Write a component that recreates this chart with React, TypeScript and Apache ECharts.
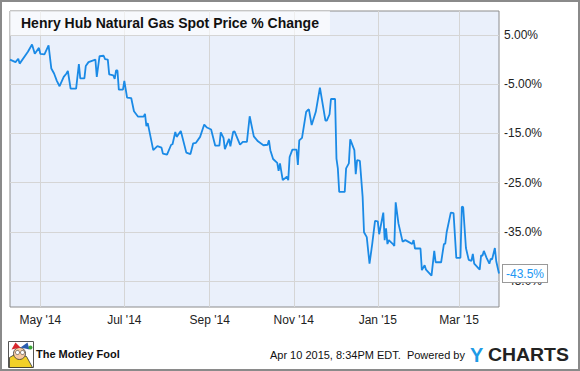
import React, { useEffect, useRef } from "react";
import * as echarts from "echarts";

const dates: string[] = [
  "2014-04-09","2014-04-13","2014-04-15","2014-04-16","2014-04-22","2014-04-25","2014-04-27","2014-04-30",
  "2014-05-01","2014-05-04","2014-05-07","2014-05-09","2014-05-11","2014-05-13","2014-05-15","2014-05-18",
  "2014-05-20","2014-05-21","2014-05-23","2014-05-27","2014-05-29","2014-05-30","2014-06-02","2014-06-03",
  "2014-06-05","2014-06-10","2014-06-11","2014-06-13","2014-06-16","2014-06-17","2014-06-19","2014-06-20",
  "2014-06-23","2014-06-24","2014-06-25","2014-06-26","2014-06-27","2014-06-30","2014-07-01","2014-07-03",
  "2014-07-06","2014-07-08","2014-07-11","2014-07-15","2014-07-16","2014-07-17","2014-07-18","2014-07-22",
  "2014-07-25","2014-07-28","2014-07-29","2014-08-01","2014-08-04","2014-08-05","2014-08-07","2014-08-08",
  "2014-08-11","2014-08-15","2014-08-18","2014-08-20","2014-08-22","2014-08-25","2014-08-28","2014-08-30",
  "2014-09-02","2014-09-05","2014-09-08","2014-09-09","2014-09-11","2014-09-12","2014-09-15","2014-09-16",
  "2014-09-18","2014-09-19","2014-09-22","2014-09-23","2014-09-25","2014-09-28","2014-09-30","2014-10-03",
  "2014-10-06","2014-10-10","2014-10-13","2014-10-14","2014-10-15","2014-10-17","2014-10-20","2014-10-21",
  "2014-10-22","2014-10-24","2014-10-27","2014-10-28","2014-10-29","2014-10-31","2014-11-03","2014-11-04",
  "2014-11-05","2014-11-07","2014-11-10","2014-11-11","2014-11-12","2014-11-14","2014-11-17","2014-11-20",
  "2014-11-24","2014-11-25","2014-11-27","2014-11-28","2014-12-01","2014-12-02","2014-12-03","2014-12-04",
  "2014-12-08","2014-12-09","2014-12-11","2014-12-12","2014-12-15","2014-12-16","2014-12-17","2014-12-19",
  "2014-12-21","2014-12-22","2014-12-24","2014-12-26","2014-12-28","2014-12-30","2015-01-01","2015-01-02",
  "2015-01-05","2015-01-06","2015-01-07","2015-01-08","2015-01-09","2015-01-12","2015-01-13","2015-01-14",
  "2015-01-16","2015-01-19","2015-01-21","2015-01-23","2015-01-26","2015-01-27","2015-01-28","2015-02-01",
  "2015-02-02","2015-02-04","2015-02-05","2015-02-09","2015-02-11","2015-02-12","2015-02-16","2015-02-18",
  "2015-02-19","2015-02-20","2015-02-23","2015-02-25","2015-02-27","2015-03-02","2015-03-03","2015-03-04",
  "2015-03-06","2015-03-08","2015-03-10","2015-03-11","2015-03-12","2015-03-16","2015-03-17","2015-03-18",
  "2015-03-19","2015-03-21","2015-03-23","2015-03-24","2015-03-25","2015-03-27","2015-03-28","2015-03-30",
];

const pctChange: number[] = [
  0, -0.5, 0.2, -0.8, 1.6, 3.1, 1.2, 2.4,
  1.2, 1.1, 2.9, -1.8, -2.8, -4.3, -5.4, -3.5,
  -2.8, -2.3, -5.9, -5.9, -0.9, -3.8, -3.8, -1.3,
  -0.5, 0, -3.5, 0.7, 0.8, 0.1, 0, -3.0,
  -3.2, -3.9, -2.2, -2.2, -6.1, -6.1, -4.3, -7.7,
  -7.8, -10.5, -11.6, -11.6, -11.0, -13.5, -12.9, -18.4,
  -17.6, -17.9, -19.1, -19.3, -17.3, -17.2, -14.7, -15.7,
  -14.5, -18.9, -19.2, -17.0, -16.9, -15.7, -13.2, -13.8,
  -14.2, -17.5, -17.5, -14.8, -15.9, -18.2, -16.1, -17.6,
  -14.7, -14.6, -16.6, -17.3, -16.7, -16.7, -11.5, -15.6,
  -16.6, -17.4, -17.3, -16.4, -18.4, -20.2, -21.0, -22.6,
  -21.1, -24.5, -23.8, -24.5, -19.8, -18.3, -18.3, -21.4,
  -16.4, -15.9, -10.6, -10.3, -10.1, -13.3, -10.6, -5.7,
  -12.4, -12.4, -11.1, -8.0, -8.0, -20.1, -22.1, -26.9,
  -26.9, -22.1, -21.1, -16.2, -18.4, -23.3, -20.4, -20.6,
  -27.9, -35.1, -36.1, -41.5, -37.4, -32.8, -32.9, -35.5,
  -31.1, -36.7, -34.3, -37.5, -36.7, -37.5, -37.9, -29.0,
  -33.3, -37.0, -36.7, -37.0, -37.5, -36.7, -38.4, -38.4,
  -42.8, -41.8, -42.7, -43.9, -38.9, -41.2, -41.2, -37.5,
  -37.4, -35.1, -31.1, -31.2, -40.3, -40.3, -29.9, -30.0,
  -38.3, -40.7, -40.9, -39.5, -41.5, -42.7, -39.8, -39.9,
  -38.9, -40.3, -41.5, -40.5, -40.6, -38.3, -41.0, -43.5,
];

const yTickValues: number[] = [5, -5, -15, -25, -35, -45];
const xTickDates: string[] = ["2014-05-01", "2014-07-01", "2014-09-01", "2014-11-01", "2015-01-01", "2015-03-01"];
const monthNames: string[] = ["Jan", "Feb", "Mar", "Apr", "May", "Jun", "Jul", "Aug", "Sep", "Oct", "Nov", "Dec"];

const titleText = "Henry Hub Natural Gas Spot Price % Change";
const FONT = "'Liberation Sans', Arial, sans-serif";

function toTs(s: string): number {
  const [y, m, d] = s.split("-").map(Number);
  return new Date(y, m - 1, d).getTime();
}

export default function App() {
  const ref = useRef<HTMLDivElement>(null);
  useEffect(() => {
    document.body.style.margin = "0";
    if (!ref.current) return;
    const chart = echarts.init(ref.current, undefined, { renderer: "svg" });
    const seriesData = dates.map((d, i) => [toTs(d), pctChange[i]]);
    const xTicks = xTickDates.map(toTs);
    chart.setOption({
      animation: false,
      backgroundColor: "#ffffff",
      textStyle: { fontFamily: FONT },
      title: {
        text: titleText,
        left: 10,
        top: 11,
        padding: [4, 11, 4, 11],
        backgroundColor: "rgba(255,255,255,0.6)",
        textStyle: { fontSize: 14, fontWeight: "bold", color: "#111", fontFamily: FONT, lineHeight: 16 },
        z: 10,
      },
      grid: {
        left: 10,
        top: 11,
        right: 81,
        bottom: 64,
        show: true,
        backgroundColor: "#eaf0fb",
        borderColor: "#8c8c8c",
        borderWidth: 1,
      },
      xAxis: {
        type: "value",
        min: toTs("2014-04-09"),
        max: toTs("2015-03-30"),
        axisLine: { show: false },
        axisTick: { show: false, customValues: xTicks },
        splitLine: { show: true, lineStyle: { color: "#d5d5d5", width: 1 } },
        axisLabel: {
          customValues: xTicks,
          color: "#222",
          fontSize: 12,
          margin: 7,
          fontFamily: FONT,
          formatter: (v: number) => {
            const d = new Date(v);
            return monthNames[d.getMonth()] + " '" + String(d.getFullYear()).slice(2);
          },
        },
      },
      yAxis: {
        type: "value",
        position: "right",
        min: -50.3,
        max: 9.9,
        axisLine: { show: false },
        axisTick: { show: false, customValues: yTickValues },
        splitLine: { show: true, lineStyle: { color: "#d5d5d5", width: 1 } },
        axisLabel: {
          customValues: yTickValues,
          color: "#222",
          fontSize: 12,
          margin: 5,
          fontFamily: FONT,
          formatter: (v: number) => (Math.abs(v) < 10 ? v.toFixed(2) : v.toFixed(1)) + "%",
        },
      },
      series: [
        {
          type: "line",
          data: seriesData,
          showSymbol: false,
          lineStyle: { color: "#1a8ae6", width: 1.8 },
          itemStyle: { color: "#1a8ae6" },
          endLabel: {
            show: true,
            distance: 4,
            formatter: (p: any) => p.value[1].toFixed(1) + "%",
            backgroundColor: "#ffffff",
            borderColor: "#999",
            borderWidth: 1,
            padding: [3, 3, 2, 3],
            color: "#2196f3",
            fontSize: 12,
            fontFamily: FONT,
          },
        },
      ],
      graphic: [
        {
          type: "rect",
          shape: { x: 1, y: 1, width: 578, height: 369 },
          style: { fill: "none", stroke: "#8a8a8a", lineWidth: 2 },
          silent: true,
          z: 100,
        },
        {
          type: "group",
          left: 8,
          top: 341,
          children: [
            { type: "rect", shape: { x: 0, y: 0, width: 25, height: 26 }, style: { fill: "#ffffff", stroke: "#555", lineWidth: 1 } },
            { type: "polygon", shape: { points: [[1, 26], [1, 16], [8, 12], [18, 15], [24, 26]] }, style: { fill: "#f2d027", stroke: "#333", lineWidth: 0.8 } },
            { type: "circle", shape: { cx: 11, cy: 12, r: 6 }, style: { fill: "#f6c9a0", stroke: "#333", lineWidth: 0.8 } },
            { type: "polygon", shape: { points: [[3, 8], [7, 1], [12, 6]] }, style: { fill: "#d9262c" } },
            { type: "polygon", shape: { points: [[12, 6], [19, 1], [21, 8]] }, style: { fill: "#2a5db0" } },
            { type: "circle", shape: { cx: 22, cy: 6, r: 2 }, style: { fill: "#3aa537" } },
            { type: "circle", shape: { cx: 9, cy: 11, r: 2 }, style: { fill: "#ffffff", stroke: "#333", lineWidth: 0.6 } },
            { type: "circle", shape: { cx: 14, cy: 11, r: 2 }, style: { fill: "#ffffff", stroke: "#333", lineWidth: 0.6 } },
          ],
        },
        {
          type: "text",
          left: 36,
          top: 348,
          style: { text: "The Motley Fool", font: "bold 11px " + FONT, fill: "#111" },
        },
        {
          type: "text",
          x: 465,
          y: 355,
          style: {
            text: "Apr 10 2015, 8:34PM EDT.  Powered by",
            font: "11px " + FONT,
            fill: "#111",
            align: "right",
            verticalAlign: "middle",
          },
        },
        {
          type: "text",
          x: 470,
          y: 355,
          style: { text: "Y", font: "bold 20px " + FONT, fill: "#1e9be6", align: "left", verticalAlign: "middle" },
        },
        {
          type: "text",
          x: 488,
          y: 355,
          scaleX: 1.08,
          style: { text: "CHARTS", font: "bold 18px " + FONT, fill: "#222", align: "left", verticalAlign: "middle" },
        },
      ],
    });
    return () => chart.dispose();
  }, []);
  return <div ref={ref} style={{ width: 580, height: 371 }} />;
}
